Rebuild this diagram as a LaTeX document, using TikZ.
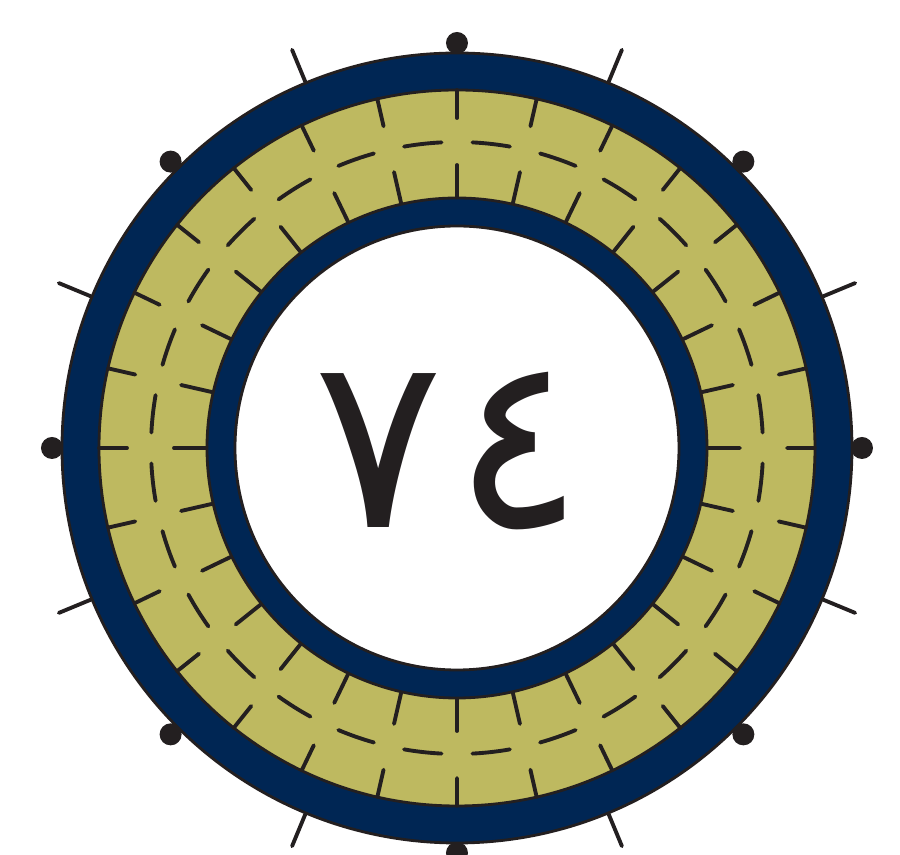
\documentclass[tikz,border=0pt]{standalone}
\usepackage{fontspec}
\newfontfamily\arabicfont[Script=Arabic]{DejaVu Sans}
\usetikzlibrary{positioning}
\definecolor{SealBlue}{RGB}{0,38,84}
\definecolor{SealOlive}{RGB}{190,185,96}
\definecolor{SealInk}{RGB}{35,31,32}
\tikzset{
  ringedge/.style={draw=SealInk, line width=0.8pt},
  bluering/.style={ringedge, fill=SealBlue},
  oliveband/.style={ringedge, fill=SealOlive},
  tickline/.style={draw=SealInk, line width=1.1pt, line cap=round},
  stud/.style={fill=SealInk},
}
\def\sealstep{12.857}
\begin{document}
\begin{tikzpicture}
  \useasboundingbox (-4.57,-4.07) rectangle (4.43,4.48);
  % studs and spikes outside the ring
  \foreach \a in {0,45,...,315} {
    \fill[stud] (\a:4.05) circle (0.11);
    \draw[tickline] (\a+22.5:3.9) -- (\a+22.5:4.31);
  }
  % rings
  \draw[bluering] (0,0) circle (3.95);
  \draw[oliveband] (0,0) circle (3.58);
  % band ticks and dashes
  \foreach \k in {0,...,27} {
    \draw[tickline] (90+\k*\sealstep:3.58) -- (90+\k*\sealstep:3.30);
    \draw[tickline] (90+\k*\sealstep:2.83) -- (90+\k*\sealstep:2.50);
    \draw[tickline] (90+\k*\sealstep+2.9:3.06) arc[start angle=90+\k*\sealstep+2.9, end angle=90+\k*\sealstep+\sealstep-2.9, radius=3.06];
  }
  \draw[bluering] (0,0) circle (2.50);
  \draw[ringedge, fill=white] (0,0) circle (2.22);
  \node[font=\arabicfont\fontsize{69}{76}\selectfont, text=SealInk] (year) at (-0.08,-0.03) {٧\kern0.04em٤};
\end{tikzpicture}
\end{document}
